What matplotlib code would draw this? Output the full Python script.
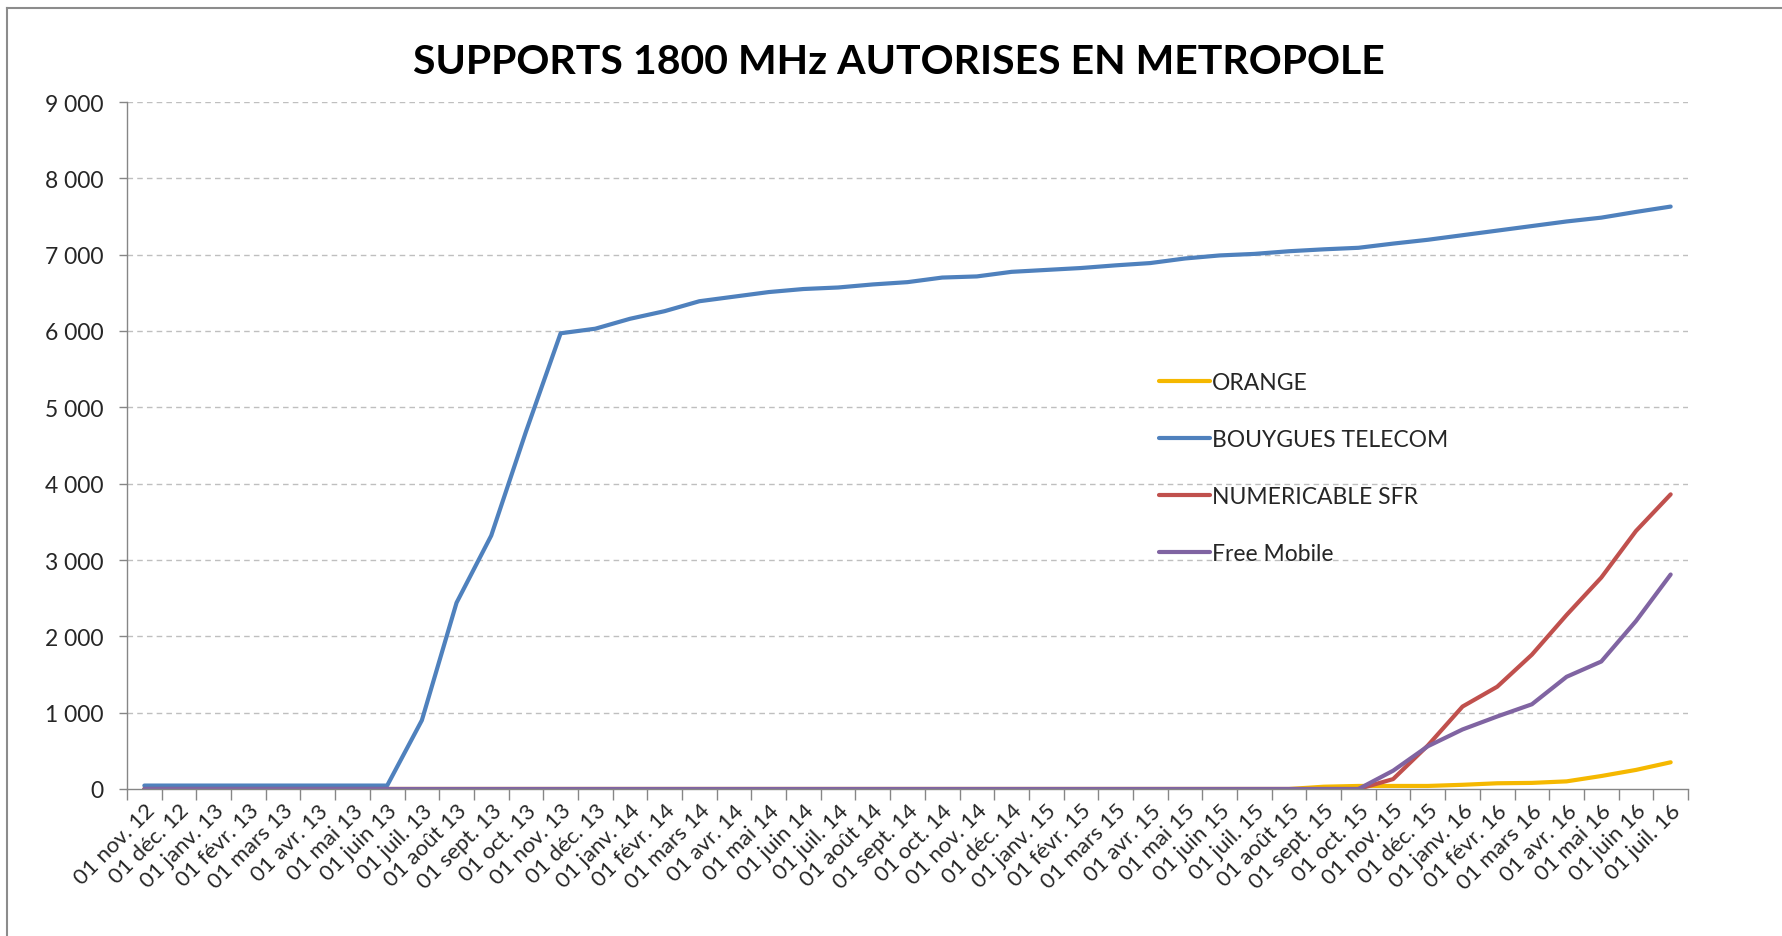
import matplotlib
matplotlib.use("Agg")
import matplotlib.pyplot as plt
from matplotlib.lines import Line2D
from matplotlib.ticker import FixedLocator, FuncFormatter

plt.rcParams['font.family'] = ['Lato', 'DejaVu Sans']

months = ["01 nov. 12", "01 déc. 12", "01 janv. 13", "01 févr. 13", "01 mars 13", "01 avr. 13",
          "01 mai 13", "01 juin 13", "01 juil. 13", "01 août 13", "01 sept. 13", "01 oct. 13",
          "01 nov. 13", "01 déc. 13", "01 janv. 14", "01 févr. 14", "01 mars 14", "01 avr. 14",
          "01 mai 14", "01 juin 14", "01 juil. 14", "01 août 14", "01 sept. 14", "01 oct. 14",
          "01 nov. 14", "01 déc. 14", "01 janv. 15", "01 févr. 15", "01 mars 15", "01 avr. 15",
          "01 mai 15", "01 juin 15", "01 juil. 15", "01 août 15", "01 sept. 15", "01 oct. 15",
          "01 nov. 15", "01 déc. 15", "01 janv. 16", "01 févr. 16", "01 mars 16", "01 avr. 16",
          "01 mai 16", "01 juin 16", "01 juil. 16"]

orange = [0, 0, 0, 0, 0, 0, 0, 0, 0, 0, 0, 0, 0, 0, 0, 0, 0, 0, 0, 0, 0, 0, 0, 0,
          0, 0, 0, 0, 0, 0, 0, 0, 0, 0, 30, 40, 40, 40, 55, 75, 80, 100, 170, 250, 350]

bouygues = [45, 45, 45, 45, 45, 45, 45, 45, 900, 2440, 3320, 4680, 5970, 6030, 6160, 6260,
            6390, 6450, 6510, 6550, 6570, 6610, 6640, 6700, 6715, 6775, 6800, 6825, 6860, 6890,
            6950, 6990, 7010, 7045, 7070, 7090, 7145, 7195, 7255, 7315, 7375, 7435, 7485, 7560, 7630]

sfr = [0, 0, 0, 0, 0, 0, 0, 0, 0, 0, 0, 0, 0, 0, 0, 0, 0, 0, 0, 0, 0, 0, 0, 0,
       0, 0, 0, 0, 0, 0, 0, 0, 0, 0, 0, 0, 130, 570, 1080, 1340, 1760, 2280, 2770, 3380, 3860]

free = [0, 0, 0, 0, 0, 0, 0, 0, 0, 0, 0, 0, 0, 0, 0, 0, 0, 0, 0, 0, 0, 0, 0, 0,
        0, 0, 0, 0, 0, 0, 0, 0, 0, 0, 0, 0, 240, 560, 780, 950, 1110, 1470, 1670, 2200, 2810]

series_names = ["ORANGE", "BOUYGUES TELECOM", "NUMERICABLE SFR", "Free Mobile"]
series_colors = ["#F5B800", "#4F81BD", "#C0504D", "#8064A2"]
yticks = [0, 1000, 2000, 3000, 4000, 5000, 6000, 7000, 8000, 9000]

W, H = 1783, 937
fig = plt.figure(figsize=(W / 100, H / 100), dpi=100)
ax = fig.add_axes([127 / W, 1 - 790 / H, (1688 - 127) / W, (790 - 103) / H])

x = list(range(len(months)))
for vals, name, col in zip([orange, bouygues, sfr, free], series_names, series_colors):
    ax.plot(x, vals, color=col, lw=3.0, label=name, solid_joinstyle='round',
            solid_capstyle='round')

ax.set_xlim(-0.5, len(months) - 0.5)
ax.set_ylim(0, 9000)

# grid
for v in yticks[1:]:
    ax.axhline(v, color="#BFBFBF", lw=1.0, ls=(0, (4, 3)), zorder=0)

ax.yaxis.set_major_locator(FixedLocator(yticks))
ax.yaxis.set_major_formatter(FuncFormatter(lambda v, p: f"{int(v):,}".replace(",", " ")))
ax.tick_params(axis='y', direction='out', length=6, width=1, color="#868686",
               labelsize=16.5, pad=11, labelcolor="#262626")

ax.set_xticks(x)
ax.set_xticklabels(months, rotation=45, ha='right', va='top', rotation_mode='anchor',
                   fontsize=16, color="#262626")
ax.tick_params(axis='x', which='major', length=0, pad=8)
ax.set_xticks([i - 0.5 for i in range(len(months) + 1)], minor=True)
ax.tick_params(axis='x', which='minor', direction='out', length=8, width=1, color="#868686")

for s in ['top', 'right']:
    ax.spines[s].set_visible(False)
for s in ['left', 'bottom']:
    ax.spines[s].set_color("#868686")
    ax.spines[s].set_linewidth(1.0)

fig.text(0.504, 1 - 62 / H, "SUPPORTS 1800 MHz AUTORISES EN METROPOLE", ha='center',
         va='center', fontsize=29.5, fontweight='bold', color="#000000")

leg = ax.legend(loc='upper left', bbox_to_anchor=(1148 / W, 1 - 362 / H),
                bbox_transform=fig.transFigure, frameon=False, fontsize=16.5,
                handlelength=2.2, handletextpad=0.1, labelspacing=1.57, borderpad=0)
for t in leg.get_texts():
    t.set_color("#262626")

# outer chart frame
fig.add_artist(Line2D([7 / W, 7 / W], [0, 1 - 9 / H], transform=fig.transFigure,
                      color="#8C8C8C", lw=1.5))
fig.add_artist(Line2D([7 / W, 1], [1 - 9 / H, 1 - 9 / H], transform=fig.transFigure,
                      color="#8C8C8C", lw=1.5))

fig.savefig("out.png", dpi=100)
